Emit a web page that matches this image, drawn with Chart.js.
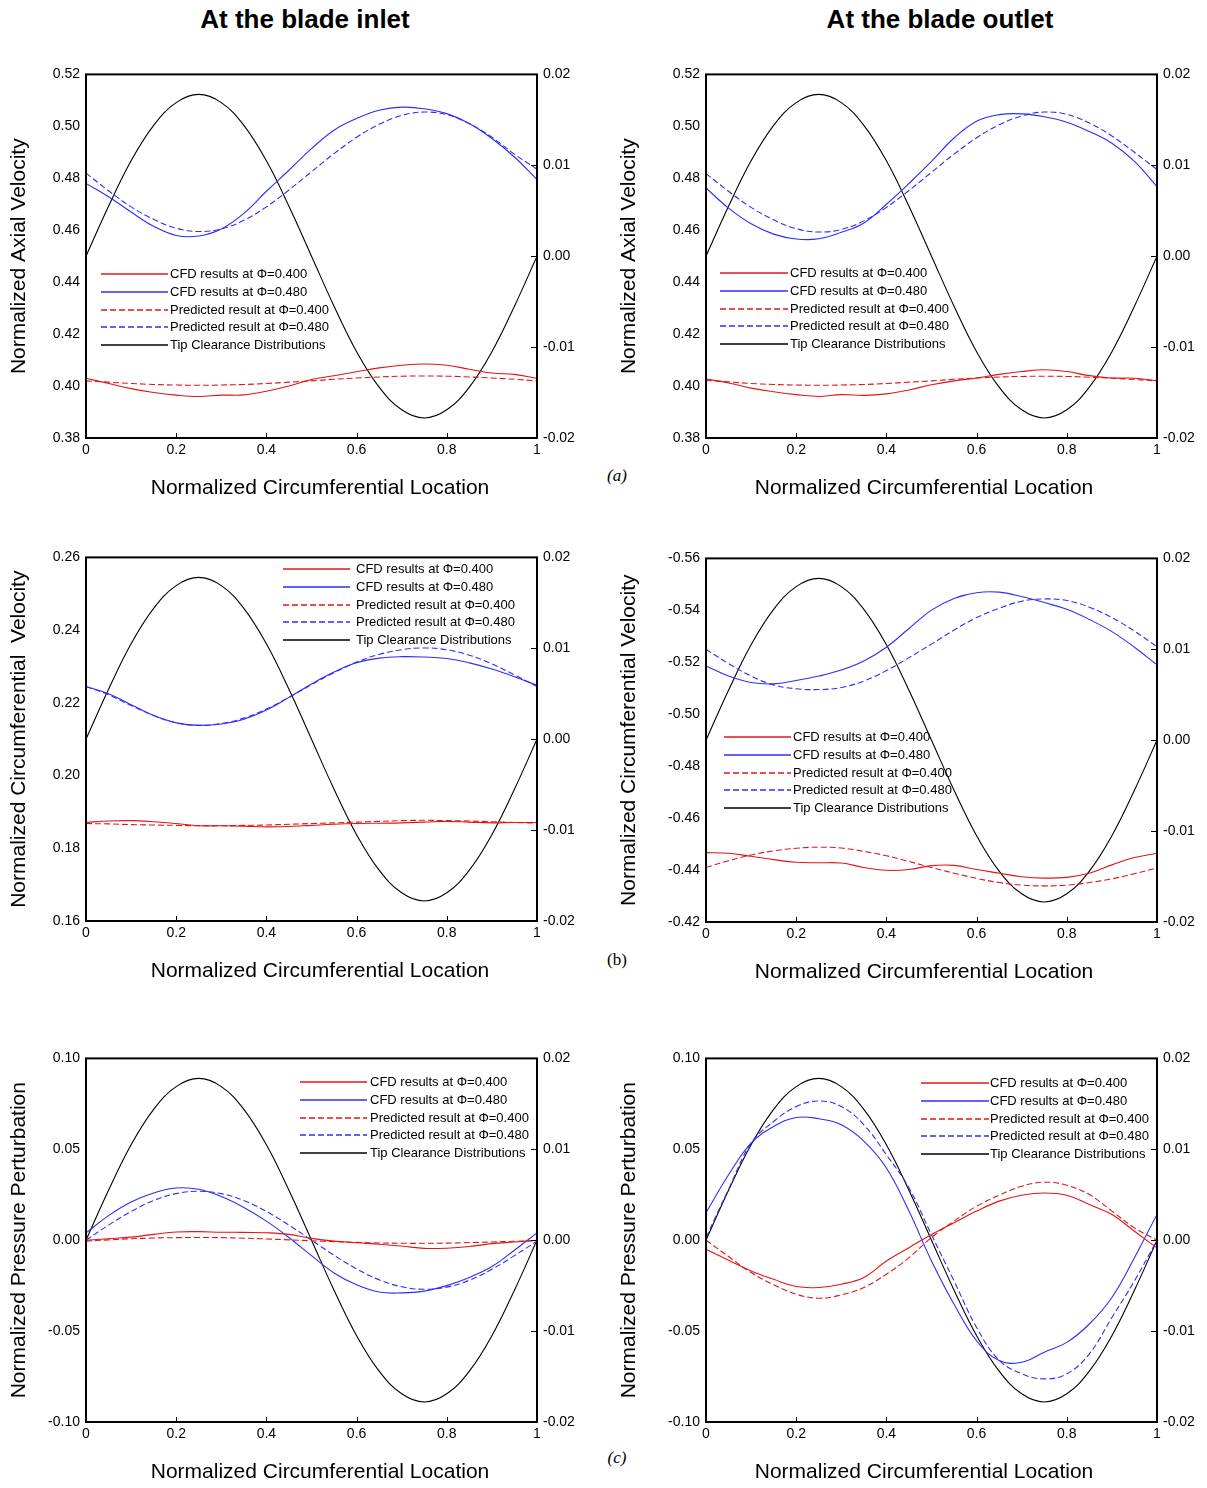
<!DOCTYPE html>
<html>
<head>
<meta charset="utf-8">
<script src="https://cdn.jsdelivr.net/npm/chart.js@4.4.0/dist/chart.umd.min.js"></script>
<style>
  body { margin: 0; background: #fff; width: 1207px; height: 1488px; position: relative; overflow: hidden; font-family: "Liberation Sans", Arial, sans-serif; }
  canvas { position: absolute; }
  .ttl { position: absolute; top: 4px; transform: translateX(-50%); font-weight: bold; font-size: 26px; line-height: 30px; white-space: nowrap; }
  .tag { position: absolute; transform: translate(-50%, -50%); font-family: "Liberation Serif", "Times New Roman", serif; font-size: 17px; }
</style>
</head>
<body>
<div class="ttl" style="left:305px">At the blade inlet</div>
<div class="ttl" style="left:940px">At the blade outlet</div>
<div class="tag" style="left:617px;top:476px;font-style:italic">(a)</div>
<div class="tag" style="left:617px;top:960px">(b)</div>
<div class="tag" style="left:617px;top:1458px;font-style:italic">(c)</div>

<canvas id="p1"></canvas>
<canvas id="p2"></canvas>
<canvas id="p3"></canvas>
<canvas id="p4"></canvas>
<canvas id="p5"></canvas>
<canvas id="p6"></canvas>

<script>
// circumferential location (x)
var loc = [0, 0.05, 0.1, 0.15, 0.2, 0.25, 0.3, 0.35, 0.4, 0.45, 0.5, 0.55, 0.6, 0.65, 0.7, 0.75, 0.8, 0.85, 0.9, 0.95, 1]
var xTicks = [0, 0.2, 0.4, 0.6, 0.8, 1]
var rightTicks = [0.02, 0.01, 0.00, -0.01, -0.02]

// tip clearance distribution (right axis), same for every panel
var tipClearance = [0, 0.0055, 0.0105, 0.0144, 0.0169, 0.0178, 0.0169, 0.0144, 0.0105, 0.0055, 0, -0.0055, -0.0105, -0.0144, -0.0169, -0.0178, -0.0169, -0.0144, -0.0105, -0.0055, 0]

// (a) axial velocity - inlet
var axInCfd400 = [0.403, 0.401, 0.399, 0.3975, 0.3965, 0.396, 0.3965, 0.3966, 0.398, 0.400, 0.4025, 0.404, 0.4055, 0.407, 0.408, 0.4085, 0.408, 0.4065, 0.405, 0.4045, 0.403]
var axInCfd480 = [0.478, 0.4729, 0.467, 0.4615, 0.458, 0.4578, 0.4605, 0.4665, 0.475, 0.4831, 0.4914, 0.4985, 0.503, 0.5062, 0.5074, 0.5068, 0.5049, 0.5011, 0.4953, 0.4882, 0.4795]
var axInPred400 = [0.402, 0.4015, 0.401, 0.4006, 0.4004, 0.4003, 0.4004, 0.4006, 0.401, 0.4015, 0.402, 0.4026, 0.4031, 0.4035, 0.4038, 0.4039, 0.4038, 0.4035, 0.4031, 0.4026, 0.402]
var axInPred480 = [0.482, 0.4752, 0.469, 0.4642, 0.4608, 0.4595, 0.4605, 0.4638, 0.469, 0.4755, 0.4825, 0.4895, 0.4958, 0.5008, 0.5042, 0.5055, 0.5045, 0.501, 0.4958, 0.4893, 0.4835]

// (a) axial velocity - outlet
var axOutCfd400 = [0.4027, 0.4012, 0.3992, 0.3978, 0.3967, 0.396, 0.3967, 0.3964, 0.397, 0.3985, 0.4005, 0.402, 0.4031, 0.4045, 0.4056, 0.4063, 0.4056, 0.404, 0.4031, 0.403, 0.402]
var axOutCfd480 = [0.4763, 0.4685, 0.4625, 0.4585, 0.4566, 0.4567, 0.4592, 0.4628, 0.470, 0.478, 0.4865, 0.4955, 0.502, 0.5045, 0.5048, 0.5037, 0.5016, 0.498, 0.4935, 0.4865, 0.4768]
var axOutPred400 = [0.4022, 0.4016, 0.401, 0.4006, 0.4004, 0.4003, 0.4004, 0.4006, 0.401, 0.4015, 0.402, 0.4026, 0.4031, 0.4035, 0.4037, 0.4038, 0.4037, 0.4034, 0.403, 0.4025, 0.402]
var axOutPred480 = [0.4818, 0.475, 0.4688, 0.464, 0.4606, 0.4593, 0.4603, 0.4636, 0.4688, 0.4753, 0.4823, 0.4893, 0.4956, 0.5006, 0.504, 0.5055, 0.5046, 0.5013, 0.4963, 0.49, 0.4834]

// (b) circumferential velocity - inlet
var ciInCfd400 = [0.1871, 0.1875, 0.1876, 0.1873, 0.1868, 0.1862, 0.1862, 0.1861, 0.1859, 0.186, 0.1863, 0.1866, 0.1868, 0.1869, 0.187, 0.1872, 0.1874, 0.1872, 0.187, 0.1871, 0.1871]
var ciInCfd480 = [0.2245, 0.2225, 0.2195, 0.2165, 0.2145, 0.2138, 0.2142, 0.2155, 0.218, 0.2215, 0.2252, 0.2285, 0.231, 0.2323, 0.2327, 0.2326, 0.2322, 0.231, 0.2293, 0.2272, 0.2248]
var ciInPred400 = [0.1868, 0.1867, 0.1865, 0.1864, 0.1863, 0.1862, 0.1862, 0.1863, 0.1864, 0.1866, 0.1868, 0.187, 0.1872, 0.1874, 0.1876, 0.1877, 0.1876, 0.1875, 0.1873, 0.1871, 0.1869]
var ciInPred480 = [0.2245, 0.2222, 0.2193, 0.2165, 0.2145, 0.2138, 0.2143, 0.2158, 0.2183, 0.2215, 0.225, 0.2283, 0.2312, 0.2333, 0.2346, 0.2351, 0.2346, 0.2331, 0.2307, 0.2277, 0.2245]

// (b) circumferential velocity - outlet
var ciOutCfd400 = [-0.4467, -0.4465, -0.4453, -0.444, -0.443, -0.4428, -0.4427, -0.441, -0.4399, -0.4402, -0.4417, -0.4418, -0.4402, -0.4388, -0.4374, -0.4369, -0.4372, -0.4388, -0.442, -0.4448, -0.4465]
var ciOutCfd480 = [-0.5186, -0.5147, -0.5122, -0.5117, -0.513, -0.5147, -0.517, -0.5205, -0.5258, -0.533, -0.5401, -0.5446, -0.5468, -0.547, -0.5453, -0.543, -0.5404, -0.5365, -0.5318, -0.5258, -0.519]
var ciOutPred400 = [-0.441, -0.4436, -0.4458, -0.4474, -0.4484, -0.4488, -0.4485, -0.4472, -0.4455, -0.4433, -0.441, -0.4388, -0.4368, -0.4352, -0.4342, -0.4339, -0.4342, -0.4352, -0.4366, -0.4386, -0.4408]
var ciOutPred480 = [-0.525, -0.5195, -0.5147, -0.5113, -0.5098, -0.5095, -0.5103, -0.5128, -0.5168, -0.5218, -0.527, -0.5324, -0.5372, -0.5408, -0.5435, -0.5444, -0.5438, -0.5412, -0.5372, -0.532, -0.526]

// (c) pressure perturbation - inlet
var prInCfd400 = [0, 0.0008, 0.0017, 0.0032, 0.0045, 0.0047, 0.0044, 0.0043, 0.0041, 0.0032, 0.001, -0.0005, -0.0014, -0.0022, -0.0032, -0.0045, -0.0044, -0.0035, -0.0019, -0.001, 0]
var prInCfd480 = [0.004, 0.0135, 0.021, 0.026, 0.0287, 0.028, 0.024, 0.018, 0.0105, 0.0015, -0.0085, -0.018, -0.0245, -0.0285, -0.029, -0.028, -0.025, -0.0205, -0.0145, -0.0055, 0.004]
var prInPred400 = [-0.0005, 0.0002, 0.0008, 0.0012, 0.0014, 0.0015, 0.0014, 0.0011, 0.0007, 0.0002, -0.0003, -0.0008, -0.0012, -0.0015, -0.0017, -0.0017, -0.0016, -0.0013, -0.001, -0.0006, -0.0002]
var prInPred480 = [0, 0.0083, 0.0158, 0.0218, 0.0256, 0.0269, 0.0256, 0.0218, 0.0158, 0.0083, 0, -0.0083, -0.0158, -0.0218, -0.0256, -0.027, -0.0258, -0.022, -0.016, -0.0085, -0.0005]

// (c) pressure perturbation - outlet
var prOutCfd400 = [-0.005, -0.011, -0.0169, -0.0215, -0.0255, -0.026, -0.0242, -0.0205, -0.0114, -0.0041, 0.0031, 0.0096, 0.016, 0.0215, 0.0247, 0.026, 0.0247, 0.0196, 0.0141, 0.0049, -0.0042]
var prOutCfd480 = [0.0151, 0.036, 0.0534, 0.0625, 0.0675, 0.0668, 0.0635, 0.0545, 0.0397, 0.016, -0.0114, -0.0352, -0.0553, -0.0662, -0.0671, -0.0616, -0.0562, -0.0461, -0.0315, -0.0096, 0.0142]
var prOutPred400 = [0, -0.009, -0.0178, -0.0245, -0.0297, -0.0319, -0.0301, -0.026, -0.0187, -0.0096, 0.0015, 0.0105, 0.0187, 0.0247, 0.0297, 0.0319, 0.0302, 0.0251, 0.016, 0.0068, 0]
var prOutPred480 = [0.0014, 0.028, 0.0534, 0.0653, 0.0735, 0.0766, 0.0735, 0.0635, 0.047, 0.0288, 0.003, -0.0224, -0.048, -0.066, -0.0735, -0.0763, -0.0735, -0.0625, -0.0425, -0.0224, 0]

var legendLabels = ['CFD results at \u03A6=0.400', 'CFD results at \u03A6=0.480', 'Predicted result at \u03A6=0.400', 'Predicted result at \u03A6=0.480', 'Tip Clearance Distributions']
var xTitle = 'Normalized Circumferential Location'

var RED = 'rgb(228,20,20)'
var BLUE = 'rgb(45,45,250)'
var FONT = '"Liberation Sans", Arial, sans-serif'

function pts(vals) {
  return vals.map(function (v, i) { return { x: loc[i], y: v } })
}

// left col canvas starts at x=0, right col at x=610
var panels = [
  { id: 'p1', cx: 0, axisW: 86, top: 74, yTitle: 'Normalized Axial Velocity', min: 0.38, max: 0.52, step: 0.02, rev: false, xt: 320,
    s: [axInCfd400, axInCfd480, axInPred400, axInPred480], lg: { x1: 101, x2: 168, tx: 170, y: 274 } },
  { id: 'p2', cx: 610, axisW: 96, top: 74, yTitle: 'Normalized Axial Velocity', min: 0.38, max: 0.52, step: 0.02, rev: false, xt: 924,
    s: [axOutCfd400, axOutCfd480, axOutPred400, axOutPred480], lg: { x1: 720, x2: 788, tx: 790, y: 273 } },
  { id: 'p3', cx: 0, axisW: 86, top: 557, yTitle: 'Normalized Circumferential  Velocity', min: 0.16, max: 0.26, step: 0.02, rev: false, xt: 320,
    s: [ciInCfd400, ciInCfd480, ciInPred400, ciInPred480], lg: { x1: 283, x2: 350, tx: 356, y: 569 } },
  { id: 'p4', cx: 610, axisW: 96, top: 558, yTitle: 'Normalized Circumferential Velocity', min: -0.56, max: -0.42, step: 0.02, rev: true, xt: 924,
    s: [ciOutCfd400, ciOutCfd480, ciOutPred400, ciOutPred480], lg: { x1: 724, x2: 791, tx: 793, y: 737 } },
  { id: 'p5', cx: 0, axisW: 86, top: 1058, yTitle: 'Normalized Pressure Perturbation', min: -0.10, max: 0.10, step: 0.05, rev: false, xt: 320,
    s: [prInCfd400, prInCfd480, prInPred400, prInPred480], lg: { x1: 300, x2: 367, tx: 370, y: 1082 } },
  { id: 'p6', cx: 610, axisW: 96, top: 1058, yTitle: 'Normalized Pressure Perturbation', min: -0.10, max: 0.10, step: 0.05, rev: false, xt: 924,
    s: [prOutCfd400, prOutCfd480, prOutPred400, prOutPred480], lg: { x1: 921, x2: 989, tx: 990, y: 1083 } }
]

var PLOT_W = 451, PLOT_H = 364, PAD_TOP = 14, RIGHT_W = 50, XAXIS_H = 70, ROW = 17.8

// frame, inward ticks, x title and the line legend
var framePlugin = {
  id: 'frame',
  afterDatasetsDraw: function (chart, args, opts) {
    var ctx = chart.ctx, a = chart.chartArea, sx = chart.scales.x, sr = chart.scales.y1
    ctx.save()
    ctx.strokeStyle = '#000'
    ctx.lineWidth = 1
    xTicks.forEach(function (v) {
      var px = Math.round(sx.getPixelForValue(v)) + 0.5
      ctx.beginPath(); ctx.moveTo(px, a.bottom); ctx.lineTo(px, a.bottom - 5); ctx.stroke()
    })
    rightTicks.forEach(function (v) {
      var py = Math.round(sr.getPixelForValue(v)) + 0.5
      ctx.beginPath(); ctx.moveTo(a.right, py); ctx.lineTo(a.right - 6, py); ctx.stroke()
    })
    ctx.lineWidth = 2
    ctx.strokeRect(a.left, a.top, a.right - a.left, a.bottom - a.top)

    // x axis title
    ctx.fillStyle = '#000'
    ctx.font = '21px ' + FONT
    ctx.textAlign = 'center'
    ctx.textBaseline = 'middle'
    ctx.fillText(xTitle, opts.xt, a.bottom + 50)

    // legend
    var lg = opts.lg
    ctx.font = '13px ' + FONT
    ctx.textAlign = 'left'
    chart.data.datasets.forEach(function (ds, i) {
      var y = Math.round(lg.y + i * ROW)
      ctx.strokeStyle = ds.borderColor
      ctx.lineWidth = 1.5
      ctx.setLineDash(ds.borderDash || [])
      ctx.beginPath(); ctx.moveTo(lg.x1, y); ctx.lineTo(lg.x2, y); ctx.stroke()
      ctx.setLineDash([])
      ctx.fillText(ds.label, lg.tx, y + 0.5)
    })
    ctx.restore()
  }
}

panels.forEach(function (p) {
  var cv = document.getElementById(p.id)
  var w = p.axisW + PLOT_W + RIGHT_W
  var h = PAD_TOP + PLOT_H + XAXIS_H
  var ctop = p.top - PAD_TOP
  cv.width = w; cv.height = h
  cv.style.left = p.cx + 'px'; cv.style.top = ctop + 'px'
  cv.style.width = w + 'px'; cv.style.height = h + 'px'

  var styles = [
    { c: RED, d: [] }, { c: BLUE, d: [] }, { c: RED, d: [6, 3] }, { c: BLUE, d: [6, 3] }
  ]
  var datasets = p.s.map(function (vals, i) {
    return {
      label: legendLabels[i], data: pts(vals), yAxisID: 'y',
      borderColor: styles[i].c, borderDash: styles[i].d, borderWidth: 1.1,
      pointRadius: 0, tension: 0.4, fill: false
    }
  })
  datasets.push({
    label: legendLabels[4], data: pts(tipClearance), yAxisID: 'y1',
    borderColor: '#000', borderWidth: 1.1, pointRadius: 0, tension: 0.4, fill: false
  })

  new Chart(cv.getContext('2d'), {
    type: 'line',
    data: { datasets: datasets },
    options: {
      responsive: false,
      animation: false,
      devicePixelRatio: 1,
      layout: { padding: { top: PAD_TOP, left: 0, right: 0, bottom: 0 } },
      plugins: {
        legend: { display: false },
        tooltip: { enabled: false },
        frame: {
          xt: p.xt - p.cx,
          lg: { x1: p.lg.x1 - p.cx, x2: p.lg.x2 - p.cx, tx: p.lg.tx - p.cx, y: p.lg.y - ctop }
        }
      },
      scales: {
        x: {
          type: 'linear', min: 0, max: 1,
          grid: { display: false, drawTicks: false }, border: { display: false },
          afterBuildTicks: function (s) { s.ticks = xTicks.map(function (v) { return { value: v } }) },
          afterFit: function (s) { s.height = XAXIS_H },
          ticks: {
            autoSkip: false, maxRotation: 0, padding: 4, color: '#000',
            font: { family: FONT, size: 14 },
            callback: function (v) { return (v === 0 || v === 1) ? String(v) : v.toFixed(1) }
          }
        },
        y: {
          position: 'left', min: p.min, max: p.max, reverse: p.rev,
          grid: { display: false, drawTicks: false }, border: { display: false },
          afterFit: function (s) { s.width = p.axisW },
          ticks: {
            stepSize: p.step, padding: 6, color: '#000',
            font: { family: FONT, size: 14 },
            callback: function (v) { return Math.abs(v) < 1e-9 ? '0.00' : v.toFixed(2) }
          },
          title: { display: true, text: p.yTitle, color: '#000',
            font: { family: FONT, size: 21 }, padding: { top: 7, bottom: 0 } }
        },
        y1: {
          position: 'right', min: -0.02, max: 0.02,
          grid: { display: false, drawTicks: false }, border: { display: false },
          afterFit: function (s) { s.width = RIGHT_W },
          afterBuildTicks: function (s) { s.ticks = rightTicks.map(function (v) { return { value: v } }) },
          ticks: {
            padding: 6, color: '#000',
            font: { family: FONT, size: 14 },
            callback: function (v) { return Math.abs(v) < 1e-9 ? '0.00' : v.toFixed(2) }
          }
        }
      }
    },
    plugins: [framePlugin]
  })
})
</script>
</body>
</html>
